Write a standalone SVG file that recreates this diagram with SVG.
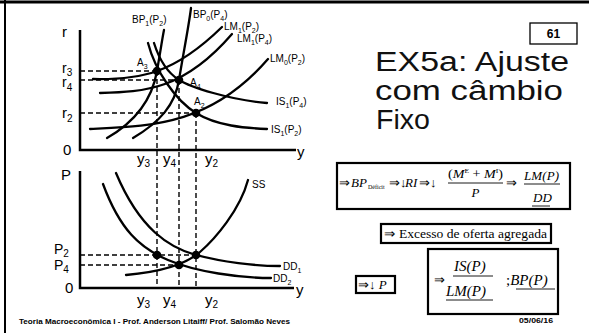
<svg xmlns="http://www.w3.org/2000/svg" width="589" height="333" viewBox="0 0 589 333">
<style>
.ax{stroke:#000;stroke-width:2.5;fill:none}
.cv{stroke:#000;stroke-width:2.3;fill:none;stroke-linecap:round}
.ds{stroke:#000;stroke-width:1.4;stroke-dasharray:5,3;fill:none}
.dot{fill:#000}
.lb{font-family:"Liberation Sans",Arial,sans-serif;font-size:10px;fill:#000}
.sb{font-size:7px}
.al{font-family:"Liberation Sans",Arial,sans-serif;font-size:15px;fill:#000}
.al2{font-size:14px}
.as{font-size:10px}
.bx{fill:#fff;stroke:#000;stroke-width:2.2}
.m{font-family:"Liberation Serif","Times New Roman",serif;font-size:13px;fill:#000}
.m15{font-size:15px}
.m6{font-size:6px}
.i{font-style:italic}
.ul{stroke:#000;stroke-width:0.9}
.ft{font-family:"Liberation Sans",Arial,sans-serif;font-size:8px;font-weight:bold;fill:#000}
.tt{font-family:"Liberation Sans",Arial,sans-serif;font-size:27px;fill:#111}
</style>
<rect width="589" height="333" fill="#fff"/>
<g id="frame">
<line x1="0" y1="2" x2="589" y2="2" stroke="#000" stroke-width="3"/>
<line x1="5" y1="0" x2="5" y2="333" stroke="#000" stroke-width="2"/>
</g>
<g id="axes">
<polyline class="ax" points="80,30 80,150 296,150"/>
<polyline class="ax" points="80,171 80,288 294,288"/>
<text class="al" x="62" y="37">r</text>
<text class="al" x="63" y="155">0</text>
<text class="al" x="297" y="157">y</text>
<text class="al" x="61" y="180">P</text>
<text class="al" x="65" y="293">0</text>
<text class="al" x="296" y="295">y</text>
<text class="al al2" x="62" y="73">r<tspan class="as" dy="3">3</tspan></text>
<text class="al al2" x="62" y="87">r<tspan class="as" dy="4">4</tspan></text>
<text class="al" x="62" y="118">r<tspan class="as" dy="4">2</tspan></text>
<text class="al al2" x="54" y="254">P<tspan class="as" dy="3">2</tspan></text>
<text class="al al2" x="54" y="270">P<tspan class="as" dy="3">4</tspan></text>
<text class="al" x="137" y="164">y<tspan class="as" dy="3">3</tspan></text>
<text class="al" x="163" y="164">y<tspan class="as" dy="3">4</tspan></text>
<text class="al" x="205" y="164">y<tspan class="as" dy="3">2</tspan></text>
<text class="al" x="137" y="305">y<tspan class="as" dy="3">3</tspan></text>
<text class="al" x="163" y="305">y<tspan class="as" dy="3">4</tspan></text>
<text class="al" x="205" y="305">y<tspan class="as" dy="3">2</tspan></text>
</g>
<g id="connectors">
<path class="ds" d="M80,71H157M80,80H179M80,113H196M157,71V288M179,80V288M196,113V288M80,255H196M80,265H179"/>
</g>
<g id="curve-bp1">
<path class="cv" d="M107,138 C135,122 152,100 157,71 S162,40 164,30"/>
<text class="lb" x="132" y="23">BP<tspan class="sb" dy="3">1</tspan><tspan dy="-3">(P</tspan><tspan class="sb" dy="3">2</tspan><tspan dy="-3">)</tspan></text>
</g>
<g id="curve-bp0">
<path class="cv" d="M133,138 C160,122 175,105 179,80 S189,25 191,8"/>
<text class="lb" x="193" y="18">BP<tspan class="sb" dy="3">0</tspan><tspan dy="-3">(P</tspan><tspan class="sb" dy="3">4</tspan><tspan dy="-3">)</tspan></text>
</g>
<g id="curve-lm1p2">
<path class="cv" d="M93,79 C140,80 174,74 222,27"/>
<text class="lb" x="224" y="30">LM<tspan class="sb" dy="3">1</tspan><tspan dy="-3">(P</tspan><tspan class="sb" dy="3">2</tspan><tspan dy="-3">)</tspan></text>
</g>
<g id="curve-lm1p4">
<path class="cv" d="M100,93 C145,92 184,89.7 232,34"/>
<text class="lb" x="237" y="42">LM<tspan class="sb" dy="3">1</tspan><tspan dy="-3">(P</tspan><tspan class="sb" dy="3">4</tspan><tspan dy="-3">)</tspan></text>
</g>
<g id="curve-lm0p2">
<path class="cv" d="M90,129 C150,126 210,126 268,59"/>
<text class="lb" x="270" y="62">LM<tspan class="sb" dy="3">0</tspan><tspan dy="-3">(P</tspan><tspan class="sb" dy="3">2</tspan><tspan dy="-3">)</tspan></text>
</g>
<g id="curve-is1p2">
<path class="cv" d="M148,43 C155,70 175,100 196,113 S245,128 267,129"/>
<text class="lb" x="271" y="133">IS<tspan class="sb" dy="3">1</tspan><tspan dy="-3">(P</tspan><tspan class="sb" dy="3">2</tspan><tspan dy="-3">)</tspan></text>
</g>
<g id="curve-is1p4">
<path class="cv" d="M154,43 C160,62 168,73 179,80 S230,100 267,103"/>
<text class="lb" x="276" y="105">IS<tspan class="sb" dy="3">1</tspan><tspan dy="-3">(P</tspan><tspan class="sb" dy="3">4</tspan><tspan dy="-3">)</tspan></text>
</g>
<g id="curve-dd1">
<path class="cv" d="M116,173 C140,230 170,248 196,255 S255,266 280,266"/>
<text class="lb" x="283" y="270">DD<tspan class="sb" dy="3">1</tspan></text>
</g>
<g id="curve-dd2">
<path class="cv" d="M103,184 C120,230 140,248 168,260 S240,278 271,278"/>
<text class="lb" x="273" y="282">DD<tspan class="sb" dy="3">2</tspan></text>
</g>
<g id="curve-ss">
<path class="cv" d="M126,275 C160,272 185,265 200,252 S240,210 248,180"/>
<text class="lb" x="252" y="188">SS</text>
</g>
<g id="points">
<circle class="dot" cx="157" cy="71" r="4.3"/>
<circle class="dot" cx="179" cy="80" r="4.3"/>
<circle class="dot" cx="196" cy="113" r="4.3"/>
<circle class="dot" cx="157" cy="255" r="4.3"/>
<circle class="dot" cx="179" cy="265" r="4.3"/>
<circle class="dot" cx="196" cy="255" r="4.3"/>
<text class="lb" x="137" y="66">A<tspan class="sb" dy="3">3</tspan></text>
<text class="lb" x="190" y="86">A<tspan class="sb" dy="3">4</tspan></text>
<text class="lb" x="194" y="105">A<tspan class="sb" dy="3">2</tspan></text>
</g>
<g id="slide-number">
<rect x="530" y="23" width="47" height="21" fill="#fff" stroke="#000" stroke-width="1.3"/>
<text x="553.5" y="38" text-anchor="middle" font-family="Liberation Sans,Arial,sans-serif" font-size="12" font-weight="bold">61</text>
</g>
<g id="title">
<text class="tt" x="375" y="71" textLength="194" lengthAdjust="spacingAndGlyphs">EX5a: Ajuste</text>
<text class="tt" x="375" y="100" textLength="188" lengthAdjust="spacingAndGlyphs">com câmbio</text>
<text class="tt" x="376" y="129" textLength="54" lengthAdjust="spacingAndGlyphs">Fixo</text>
</g>
<g id="box-chain">
<rect class="bx" x="337" y="163" width="233" height="46"/>
<text class="m" x="339" y="187">⇒</text>
<text class="m i" x="351" y="187">BP</text>
<text class="m m6" x="368" y="189">Déficit</text>
<text class="m" x="389" y="187">⇒↓</text>
<text class="m i" x="405" y="187">RI</text>
<text class="m" x="419" y="187">⇒↓</text>
<text class="m" x="448" y="178" textLength="55" lengthAdjust="spacingAndGlyphs">(<tspan class="i">M</tspan><tspan font-size="7" dy="-5">E</tspan><tspan dy="5"> + </tspan><tspan class="i">M</tspan><tspan font-size="7" dy="-5">I</tspan><tspan dy="5">)</tspan></text>
<line class="ul" x1="448" y1="183" x2="503" y2="183"/>
<text class="m i" x="475.5" y="197" text-anchor="middle">P</text>
<text class="m" x="506" y="187">⇒</text>
<text class="m i" x="524" y="180" textLength="35">LM(P)</text>
<line class="ul" x1="524" y1="184" x2="560" y2="184"/>
<text class="m i" x="533" y="202">DD</text>
<line class="ul" x1="532" y1="206" x2="550" y2="206"/>
</g>
<g id="box-excess">
<rect class="bx" x="381" y="224" width="170" height="19"/>
<text class="m" x="384" y="238" textLength="163" lengthAdjust="spacingAndGlyphs">⇒ Excesso de oferta agregada</text>
</g>
<g id="box-price">
<rect class="bx" x="356" y="276" width="39" height="17"/>
<text class="m" x="358" y="289">⇒↓ <tspan class="i">P</tspan></text>
</g>
<g id="box-shift">
<rect class="bx" x="428" y="249" width="130" height="65"/>
<text class="m" x="434" y="284">⇒</text>
<text class="m m15 i" x="454" y="271">IS(P)</text>
<line class="ul" x1="453" y1="276" x2="493" y2="276"/>
<text class="m m15 i" x="446" y="296">LM(P)</text>
<line class="ul" x1="446" y1="300" x2="493" y2="300"/>
<text class="m m15" x="506" y="285">;<tspan class="i">BP(P)</tspan></text>
<line class="ul" x1="516" y1="289" x2="555" y2="289"/>
</g>
<g id="footer">
<text class="ft" x="19" y="324" textLength="271" lengthAdjust="spacingAndGlyphs">Teoria Macroeconômica I - Prof. Anderson Litaiff/ Prof. Salomão Neves</text>
<text class="ft" x="519" y="323" textLength="34" lengthAdjust="spacingAndGlyphs">05/06/16</text>
</g>
</svg>
